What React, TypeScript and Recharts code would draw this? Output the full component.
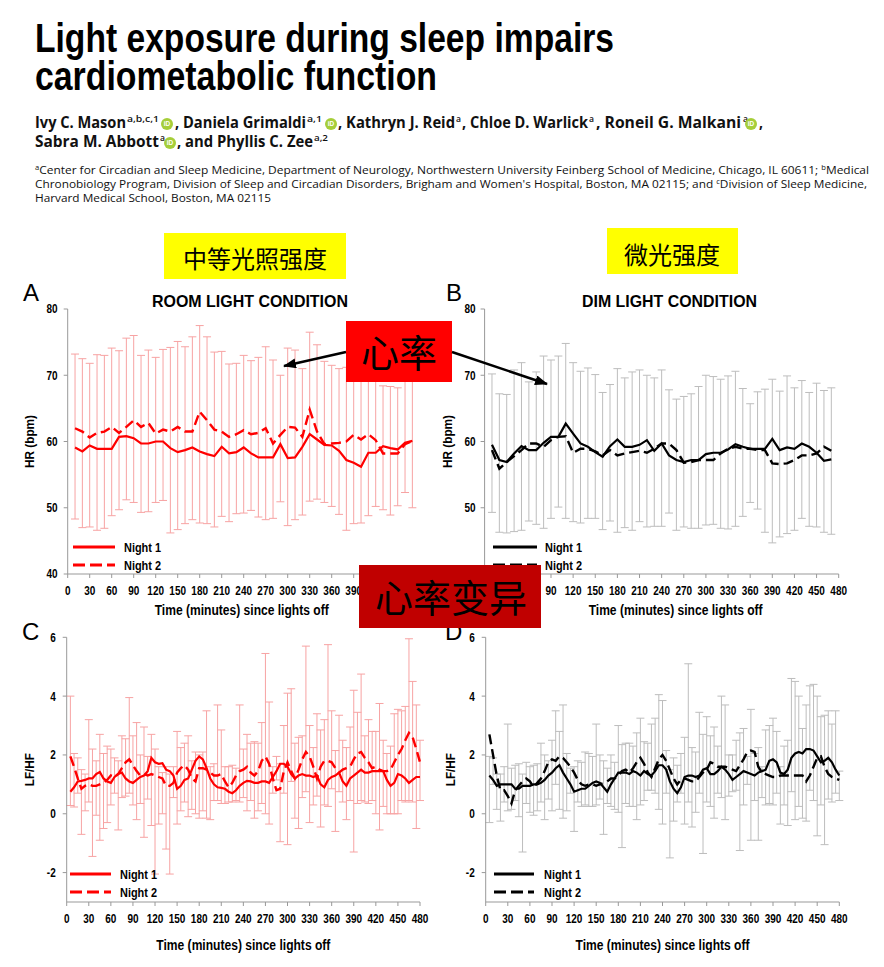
import { LineChart, Line, XAxis, YAxis, ErrorBar } from "recharts";

const NARROW = "'Liberation Sans Narrow', 'Arial Narrow', 'Liberation Sans', Arial, sans-serif";
const ARIAL = "'Liberation Sans', Arial, sans-serif";
const HUMANIST = "'Open Sans', 'Noto Sans', sans-serif";
const CJK = "'Noto Sans CJK SC', 'Noto Sans CJK JP', sans-serif";

// ---- HR panels (A, B): 10-minute bins ----
const hrMinutes = [
  10, 20, 30, 40, 50, 60, 70, 80, 90, 100, 110, 120, 130, 140, 150, 160, 170, 180, 190, 200,
  210, 220, 230, 240, 250, 260, 270, 280, 290, 300, 310, 320, 330, 340, 350, 360, 370, 380, 390, 400,
  410, 420, 430, 440, 450, 460, 470,
];

const roomHrNight1 = [
  59.1, 58.5, 59.4, 58.9, 58.9, 58.9, 60.7, 60.8, 60.5, 59.7, 59.7, 60.0, 60.0, 59.0, 58.4, 58.7, 59.1, 58.5, 58.1, 57.8,
  59.2, 58.2, 58.4, 59.1, 58.2, 57.6, 57.6, 57.6, 59.6, 57.5, 57.6, 59.2, 61.1, 60.3, 59.5, 59.4, 58.6, 57.2, 56.8, 56.2,
  58.3, 58.3, 59.3, 59.0, 58.8, 59.8, 60.1,
];
const roomHrNight2 = [
  62.0, 61.5, 60.6, 61.3, 61.5, 62.2, 61.3, 62.2, 63.2, 62.2, 62.8, 61.2, 61.8, 61.5, 62.2, 61.5, 61.5, 64.5, 63.2, 61.8,
  61.5, 60.7, 61.1, 61.7, 61.1, 61.3, 62.0, 59.7, 61.0, 62.2, 62.1, 60.7, 64.8, 61.5, 59.6, 59.7, 59.8, 60.0, 61.0, 60.3,
  61.1, 60.2, 58.2, 58.2, 58.2, 59.6, 60.1,
];
const roomHrHigh = [
  73.2, 72.5, 71.8, 73.1, 73.0, 74.1, 73.7, 75.6, 76.0, 73.0, 73.8, 72.7, 73.9, 74.2, 75.1, 74.3, 75.8, 77.5, 75.8, 73.5,
  73.6, 71.7, 71.8, 73.0, 72.2, 72.7, 74.3, 72.3, 70.0, 74.1, 73.8, 71.0, 76.5, 74.6, 72.1, 71.5, 71.0, 71.2, 71.5, 71.8,
  71.3, 70.6, 68.4, 68.3, 68.1, 69.5, 70.5,
];
const roomHrLow = [
  48.3, 47.0, 47.1, 46.6, 46.9, 48.8, 49.7, 51.2, 50.8, 49.3, 49.4, 50.8, 51.1, 46.2, 46.7, 47.6, 48.2, 47.7, 47.6, 47.1,
  48.7, 47.9, 49.1, 49.2, 49.6, 48.6, 48.2, 48.4, 50.9, 47.3, 48.2, 48.9, 51.0, 51.3, 50.8, 50.2, 49.0, 46.6, 47.6, 47.7,
  48.8, 50.2, 49.7, 48.9, 50.3, 52.3, 50.0,
];

const dimHrNight1 = [
  59.5, 57.2, 56.9, 58.2, 59.3, 58.7, 58.7, 59.8, 60.7, 60.7, 62.7, 61.2, 59.7, 59.2, 58.4, 57.7, 59.3, 60.3, 59.2, 59.2,
  59.5, 60.2, 58.6, 59.7, 57.9, 57.2, 56.9, 57.2, 57.2, 58.1, 58.3, 58.3, 58.8, 59.6, 59.2, 58.9, 58.9, 58.9, 60.4, 58.7,
  59.1, 58.9, 59.7, 59.2, 58.3, 57.1, 57.3,
];
const dimHrNight2 = [
  58.7, 55.9, 56.9, 57.8, 58.7, 59.7, 59.7, 59.2, 60.2, 60.7, 60.8, 58.3, 58.9, 58.9, 58.5, 57.9, 58.7, 57.9, 58.2, 58.4,
  58.6, 58.3, 58.9, 59.7, 59.7, 58.7, 56.8, 56.9, 57.2, 57.2, 57.2, 58.2, 58.9, 59.2, 58.9, 58.9, 58.7, 58.7, 56.7, 56.6,
  56.7, 57.2, 57.9, 57.9, 58.2, 59.2, 58.6,
];
const dimHrHigh = [
  70.2, 67.2, 67.1, 70.8, 71.9, 69.0, 70.5, 72.9, 72.3, 72.9, 74.8, 71.9, 70.6, 71.1, 70.1, 67.4, 68.6, 71.0, 69.6, 70.5,
  70.8, 70.0, 69.6, 70.8, 67.8, 66.4, 66.8, 67.2, 68.3, 70.0, 69.8, 69.4, 69.9, 70.6, 68.0, 65.7, 67.5, 67.9, 69.4, 67.6,
  69.9, 68.1, 69.2, 67.4, 68.8, 67.7, 68.1,
];
const dimHrLow = [
  49.3, 46.3, 46.2, 46.4, 46.6, 48.0, 47.5, 46.9, 48.4, 50.1, 48.4, 47.9, 47.7, 48.4, 48.4, 46.7, 48.0, 46.3, 47.0, 46.6,
  47.9, 47.1, 47.2, 47.2, 49.2, 46.6, 47.1, 46.9, 46.9, 47.4, 47.5, 46.9, 46.8, 47.2, 48.7, 50.8, 49.8, 46.3, 44.7, 45.6,
  46.1, 46.6, 48.4, 47.2, 47.1, 46.3, 46.0,
];

// ---- LF/HF panels (C, D): 5-minute bins ----
const lfMinutes = [
  5, 10, 15, 20, 25, 30, 35, 40, 45, 50, 55, 60, 65, 70, 75, 80, 85, 90, 95, 100,
  105, 110, 115, 120, 125, 130, 135, 140, 145, 150, 155, 160, 165, 170, 175, 180, 185, 190, 195, 200,
  205, 210, 215, 220, 225, 230, 235, 240, 245, 250, 255, 260, 265, 270, 275, 280, 285, 290, 295, 300,
  305, 310, 315, 320, 325, 330, 335, 340, 345, 350, 355, 360, 365, 370, 375, 380, 385, 390, 395, 400,
  405, 410, 415, 420, 425, 430, 435, 440, 445, 450, 455, 460, 465, 470, 475, 480,
];

const roomLfNight1 = [
  0.75, 0.9, 1.1, 1.12, 1.15, 1.2, 1.2, 1.35, 1.42, 1.2, 1.1, 1.05, 1.25, 1.35, 1.4, 1.2, 1.1, 1.05, 1.15, 1.25,
  1.3, 1.45, 1.9, 1.75, 1.7, 1.72, 1.5, 1.45, 1.3, 0.85, 0.95, 1.15, 1.2, 1.5, 1.8, 1.95, 1.85, 1.55, 1.2, 1.0,
  0.9, 0.88, 0.85, 0.75, 0.7, 0.8, 0.95, 1.05, 1.12, 1.1, 1.05, 1.05, 1.1, 1.1, 1.05, 1.25, 1.45, 1.7, 1.7, 1.6,
  1.35, 1.2, 1.3, 1.35, 1.3, 1.3, 1.25, 1.3, 1.0, 0.9, 1.15, 1.25, 1.3, 1.4, 1.1, 0.95, 1.2, 1.3, 1.4, 1.5,
  1.4, 1.4, 1.45, 1.45, 1.45, 1.45, 1.15, 0.95, 1.05, 1.35, 1.3, 1.2, 1.05, 1.15, 1.25, 1.25,
];
const roomLfNight2 = [
  1.95, 1.6, 1.2, 0.85, 0.95, 1.0, 0.95, 0.95, 1.0, 1.05, 1.15, 1.3, 1.25, 1.35, 1.55, 1.75, 1.85, 1.65, 1.45, 1.3,
  1.35, 1.3, 1.35, 1.3, 1.25, 1.2, 0.95, 0.95, 1.05, 1.4, 1.55, 1.65, 1.5, 1.2, 1.1, 1.55, 1.55, 1.5, 1.4, 1.3,
  1.3, 1.35, 1.1, 0.9, 1.05, 1.3, 1.45, 1.5, 1.6, 1.4, 1.3, 1.45, 1.8, 1.95, 1.7, 1.2, 0.8, 0.85, 1.45, 1.75,
  1.45, 1.2, 1.5, 1.85, 2.1, 1.95, 1.6, 1.2, 1.6, 1.8, 1.8, 1.75, 1.55, 1.4, 1.5, 1.55, 1.6, 1.85, 2.05, 2.1,
  1.9, 1.75, 1.55, 1.6, 1.5, 1.45, 1.45, 1.5, 1.75, 2.0, 2.2, 2.5, 2.75, 2.6, 2.2, 1.75,
];
const roomLfHigh = [
  4.0, 2.05, 1.9, 1.5, 1.35, 3.2, 2.2, 1.8, 2.7, 2.05, 2.3, 2.2, 1.9, 1.8, 2.65, 2.55, 3.95, 2.65, 3.1, 2.0,
  2.95, 1.95, 2.7, 2.2, 1.6, 1.4, 1.6, 1.35, 1.6, 2.8, 2.25, 2.4, 2.65, 1.8, 2.1, 2.0, 2.1, 3.5, 1.6, 1.7,
  3.7, 2.85, 1.6, 1.6, 1.65, 1.55, 3.7, 2.2, 2.7, 2.4, 2.45, 2.4, 3.1, 5.45, 3.8, 1.6, 1.95, 1.7, 3.0, 4.1,
  4.25, 2.4, 2.6, 2.65, 5.7, 3.0, 2.25, 3.4, 2.85, 3.2, 5.75, 3.5, 2.15, 3.35, 2.5, 2.25, 2.95, 4.2, 3.45, 4.75,
  2.65, 3.2, 2.8, 2.8, 3.75, 2.5, 2.05, 2.3, 3.4, 3.55, 3.5, 3.65, 5.95, 4.5, 3.7, 2.5,
];
const roomLfLow = [
  0.28, 0.23, 0.7, -0.7, 0.1, 0.4, -1.45, -0.05, -0.9, -0.5, -0.3, 0.3, 0.7, -0.55, 0.55, 0.6, 0.7, 0.3, -0.2, 0.35,
  -0.8, 0.5, -0.4, -2.05, -0.35, 0.0, -1.2, -2.05, 0.55, -0.35, 0.1, 0.4, -0.1, 0.15, 0.0, -0.15, 0.1, -0.15, -0.2, 0.45,
  0.45, 0.35, 0.35, 0.4, 0.4, 0.45, 0.4, 0.55, 0.1, 0.45, -0.15, 0.1, 0.35, 0.0, -0.35, 0.7, 1.15, -0.95, 0.7, -1.05,
  1.1, -0.15, -0.5, 0.55, 0.75, -0.3, 0.3, 0.6, -0.45, 0.3, 0.25, 0.85, -0.6, 0.75, 0.4, -0.2, 0.45, -1.3, 0.35, 0.45,
  0.4, 0.35, 0.45, 0.0, -0.55, 0.25, 0.0, 0.0, 0.0, 0.0, 0.45, 0.4, 0.45, 0.4, -0.5, 0.45,
];

const dimLfNight1 = [
  1.3, 1.15, 0.95, 1.0, 1.0, 1.0, 1.0, 0.85, 0.85, 0.95, 0.95, 0.95, 1.0, 1.0, 1.05, 1.15, 1.3, 1.4, 1.55, 1.65,
  1.4, 1.2, 1.0, 0.75, 0.8, 0.85, 0.85, 0.95, 1.05, 1.1, 1.05, 0.9, 0.75, 1.0, 1.2, 1.4, 1.4, 1.4, 1.35, 1.45,
  1.4, 1.3, 1.45, 1.35, 1.3, 1.45, 1.65, 1.65, 1.5, 1.1, 0.85, 0.7, 0.9, 1.25, 1.3, 1.3, 1.25, 1.3, 1.5, 1.55,
  1.35, 1.35, 1.45, 1.6, 1.5, 1.35, 1.15, 1.25, 1.35, 1.45, 1.4, 1.35, 1.3, 1.4, 1.45, 1.5, 1.8, 1.85, 1.75, 1.4,
  1.35, 1.5, 1.9, 2.05, 2.1, 2.05, 2.2, 2.2, 2.15, 1.95, 1.75, 1.8, 1.9, 1.75, 1.5, 1.3,
];
const dimLfNight2 = [
  2.7, 2.0, 1.3, 0.8, 0.8, 0.6, 0.35, 0.8, 0.95, 1.1, 1.2, 1.1, 0.9, 1.05, 1.2, 1.45, 1.75, 1.85, 1.8, 1.95,
  1.9, 1.75, 1.6, 1.4, 1.15, 1.0, 0.95, 1.0, 1.0, 0.95, 1.0, 1.05, 1.1, 1.2, 1.2, 1.3, 1.45, 1.5, 1.4, 1.55,
  1.75, 1.9, 1.7, 1.4, 1.25, 1.55, 1.85, 2.0, 1.8, 1.5, 1.2, 1.0, 1.15, 1.2, 1.15, 1.1, 1.1, 1.25, 1.4, 1.5,
  1.75, 1.7, 1.6, 1.6, 1.6, 1.55, 1.5, 1.45, 1.65, 1.85, 2.1, 2.15, 2.1, 1.6, 1.4, 1.35, 1.3, 1.25, 1.25, 1.3,
  1.3, 1.3, 1.3, 1.3, 1.3, 1.3, 1.1, 1.3, 1.6, 1.9, 1.95, 1.6, 1.35, 1.25, 1.2, 1.15,
];
const dimLfHigh = [
  1.95, 1.9, 1.35, 1.35, 1.6, 3.05, 1.55, 1.65, 1.7, 1.35, 1.75, 1.6, 1.65, 1.7, 2.4, 2.0, 1.8, 2.5, 3.5, 2.8,
  3.7, 2.05, 1.55, 1.6, 1.8, 1.75, 2.1, 2.05, 1.95, 3.05, 2.0, 1.8, 1.55, 2.0, 1.75, 3.0, 2.35, 2.4, 2.4, 2.3,
  2.75, 3.25, 2.45, 2.4, 3.05, 3.25, 4.05, 3.85, 2.15, 1.5, 1.9, 1.65, 2.05, 2.6, 5.1, 2.25, 2.1, 3.45, 2.7, 3.3,
  2.65, 2.95, 2.3, 4.0, 3.7, 2.0, 2.0, 2.5, 2.75, 2.9, 1.95, 3.55, 2.05, 2.25, 1.6, 2.85, 3.0, 3.25, 2.8, 1.6,
  2.3, 2.5, 4.6, 4.5, 4.0, 2.9, 3.7, 4.35, 4.4, 4.0, 3.3, 3.35, 3.5, 3.05, 3.5, 1.45,
];
const dimLfLow = [
  -0.3, 1.0, 0.15, -0.25, 0.4, 0.1, 0.15, 0.45, -0.1, -1.3, 0.35, 0.05, -0.05, 0.1, 0.4, -0.2, 0.5, 0.1, 1.0, 0.15,
  -0.15, 0.1, 0.7, -0.6, 0.4, 0.25, 0.3, 0.25, 0.25, 0.3, 0.5, -0.7, 0.35, 0.25, 0.15, 0.05, -1.15, 0.35, 0.25, 0.25,
  -0.2, 0.3, 0.45, 0.8, 0.8, 0.7, 0.15, -0.35, 0.7, -1.5, -0.25, 0.4, 0.7, -0.35, 0.4, -0.45, 0.05, 0.7, -1.35, 0.4,
  0.25, -0.15, 0.7, 0.55, -0.2, 0.6, 0.75, 0.8, -1.25, 0.3, 1.0, -0.9, 0.45, -0.9, 0.55, 0.3, 0.35, 0.3, 0.7, -0.35,
  0.3, -0.4, 0.75, -0.2, 0.25, -0.15, -0.25, 0.8, 0.45, -0.75, 0.3, -1.05, 0.5, 0.4, 0.7, 0.45,
];

const timeTicks = [0, 30, 60, 90, 120, 150, 180, 210, 240, 270, 300, 330, 360, 390, 420, 450, 480];
const hrTicks = [40, 50, 60, 70, 80];
const lfTicks = [-2, 0, 2, 4, 6];

type Row = { t: number; n1: number; n2: number; mid: number; err: number };

function buildRows(mins: number[], n1: number[], n2: number[], hi: number[], lo: number[]): Row[] {
  // error bar drawn around the midpoint of its whisker ends
  return mins.map((m, i) => ({
    t: m,
    n1: n1[i],
    n2: n2[i],
    mid: (hi[i] + lo[i]) / 2,
    err: (hi[i] - lo[i]) / 2,
  }));
}

const roomHrRows = buildRows(hrMinutes, roomHrNight1, roomHrNight2, roomHrHigh, roomHrLow);
const dimHrRows = buildRows(hrMinutes, dimHrNight1, dimHrNight2, dimHrHigh, dimHrLow);
const roomLfRows = buildRows(lfMinutes, roomLfNight1, roomLfNight2, roomLfHigh, roomLfLow);
const dimLfRows = buildRows(lfMinutes, dimLfNight1, dimLfNight2, dimLfHigh, dimLfLow);

// Arial-bold squeezed horizontally, the figure uses a narrow face
const SQUEEZE = 0.8;

function NarrowTick(props: any) {
  const { x, y, payload, textAnchor, verticalAnchor } = props;
  const dy = verticalAnchor === "start" ? "0.71em" : "0.355em";
  return (
    <text
      x={x}
      y={y}
      dy={dy}
      textAnchor={textAnchor}
      fontSize={12.5}
      fontWeight={700}
      fontFamily={ARIAL}
      fill="#000"
      transform={`translate(${x},0) scale(${SQUEEZE},1) translate(${-x},0)`}
    >
      {payload.value}
    </text>
  );
}

interface PanelProps {
  left: number;
  top: number;
  width: number;
  height: number;
  rows: Row[];
  yDomain: [number, number];
  yTicks: number[];
  yLabel: string;
  yLabelLen: number;
  lineColor: string;
  barColor: string;
  margin: { top: number; right: number; bottom: number; left: number };
  yAxisWidth: number;
  xAxisHeight: number;
  yLabelX: number;
  yTickMargin: number;
  xTitleShift: number;
}

function Panel(p: PanelProps) {
  const xTitle = (lp: any) => {
    const vb = lp.viewBox;
    const cx = vb.x + vb.width / 2 + p.xTitleShift;
    return (
      <text
        x={cx - 87}
        y={vb.y + vb.height}
        textLength={174}
        lengthAdjust="spacingAndGlyphs"
        fontSize={14}
        fontWeight={700}
        fontFamily={NARROW}
        fill="#000"
      >
        Time (minutes) since lights off
      </text>
    );
  };
  const yTitle = (lp: any) => {
    const vb = lp.viewBox;
    const cy = vb.y + vb.height / 2;
    return (
      <text
        x={0}
        y={0}
        textLength={p.yLabelLen}
        lengthAdjust="spacingAndGlyphs"
        textAnchor="middle"
        fontSize={13}
        fontWeight={700}
        fontFamily={NARROW}
        fill="#000"
        transform={`translate(${p.yLabelX + 4.5},${cy}) rotate(-90)`}
      >
        {p.yLabel}
      </text>
    );
  };
  return (
    <div style={{ position: "absolute", left: p.left, top: p.top, width: p.width, height: p.height }}>
      <LineChart width={p.width} height={p.height} data={p.rows} margin={p.margin}>
        <XAxis
          dataKey="t"
          type="number"
          domain={[0, 480]}
          ticks={timeTicks}
          interval={0}
          height={p.xAxisHeight}
          tickSize={4}
          tickMargin={8}
          axisLine={{ stroke: "#999" }}
          tickLine={{ stroke: "#999" }}
          tick={<NarrowTick />}
          label={xTitle}
        />
        <YAxis
          type="number"
          domain={p.yDomain}
          ticks={p.yTicks}
          interval={0}
          width={p.yAxisWidth}
          tickSize={4}
          tickMargin={p.yTickMargin}
          axisLine={{ stroke: "#999" }}
          tickLine={{ stroke: "#999" }}
          tick={<NarrowTick />}
          label={yTitle}
        />
        <Line
          dataKey="mid"
          stroke="none"
          dot={false}
          activeDot={false}
          legendType="none"
          isAnimationActive={false}
        >
          <ErrorBar dataKey="err" width={4} stroke={p.barColor} strokeWidth={1} direction="y" isAnimationActive={false} />
        </Line>
        <Line
          type="linear"
          dataKey="n1"
          stroke={p.lineColor}
          strokeWidth={2.2}
          dot={false}
          activeDot={false}
          isAnimationActive={false}
        />
        <Line
          type="linear"
          dataKey="n2"
          stroke={p.lineColor}
          strokeWidth={2.4}
          strokeDasharray="10 5"
          dot={false}
          activeDot={false}
          isAnimationActive={false}
        />
      </LineChart>
    </div>
  );
}

function LegendBlock({ x, y1, y2, textX, color, len }: { x: number; y1: number; y2: number; textX: number; color: string; len: number }) {
  const t = { fontFamily: NARROW, fontSize: 13.5, fontWeight: 700, fill: "#000", textLength: 37, lengthAdjust: "spacingAndGlyphs" };
  return (
    <g>
      <line x1={x} y1={y1} x2={x + len} y2={y1} stroke={color} strokeWidth={3} />
      <line x1={x} y1={y2} x2={x + len} y2={y2} stroke={color} strokeWidth={3} strokeDasharray="12 5" />
      <text x={textX} y={y1 + 5} {...t}>Night 1</text>
      <text x={textX} y={y2 + 5} {...t}>Night 2</text>
    </g>
  );
}

function Orcid({ cx, cy }: { cx: number; cy: number }) {
  return (
    <g>
      <circle cx={cx} cy={cy} r={6} fill="#a6ce39" />
      <text x={cx} y={cy + 2.3} textAnchor="middle" fontSize={6.5} fontWeight={700} fill="#fff" fontFamily={ARIAL}>
        iD
      </text>
    </g>
  );
}

function Header() {
  const name = { fontFamily: HUMANIST, fontSize: 15.5, fontWeight: 700, fill: "#111" };
  const sup = { fontFamily: HUMANIST, fontSize: 9, fontWeight: 600, fill: "#111" };
  const aff = { fontFamily: HUMANIST, fontSize: 11, fill: "#111" };
  const seg = (x: number, x2: number, y: number, s: string, st: any) => (
    <text x={x} y={y} textLength={x2 - x} lengthAdjust="spacingAndGlyphs" {...st}>
      {s}
    </text>
  );
  return (
    <g>
      <text x={35} y={52} fontFamily={NARROW} fontSize={40} fontWeight={700} fill="#000" textLength={579} lengthAdjust="spacingAndGlyphs">
        Light exposure during sleep impairs
      </text>
      <text x={35} y={90} fontFamily={NARROW} fontSize={40} fontWeight={700} fill="#000" textLength={402} lengthAdjust="spacingAndGlyphs">
        cardiometabolic function
      </text>

      {seg(35, 126, 128, "Ivy C. Mason", name)}
      {seg(127, 159, 122, "a,b,c,1", sup)}
      <Orcid cx={167} cy={124} />
      {seg(175, 306, 128, ", Daniela Grimaldi", name)}
      {seg(307, 322, 122, "a,1", sup)}
      <Orcid cx={331} cy={124} />
      {seg(338, 455, 128, ", Kathryn J. Reid", name)}
      {seg(456, 461, 122, "a", sup)}
      {seg(462, 588, 128, ", Chloe D. Warlick", name)}
      {seg(589, 594, 122, "a", sup)}
      {seg(596, 741, 128, ", Roneil G. Malkani", name)}
      {seg(743, 748, 122, "a", sup)}
      <Orcid cx={751} cy={124} />
      {seg(759, 763, 128, ",", name)}

      {seg(35, 159, 147, "Sabra M. Abbott", name)}
      {seg(160, 165, 141, "a", sup)}
      <Orcid cx={170} cy={143} />
      {seg(177, 313, 147, ", and Phyllis C. Zee", name)}
      {seg(314, 328, 141, "a,2", sup)}

      <text x={35} y={174} textLength={834} lengthAdjust="spacingAndGlyphs" {...aff}>
        <tspan fontSize={7} dy={-4}>a</tspan>
        <tspan dy={4}>Center for Circadian and Sleep Medicine, Department of Neurology, Northwestern University Feinberg School of Medicine, Chicago, IL 60611; </tspan>
        <tspan fontSize={7} dy={-4}>b</tspan>
        <tspan dy={4}>Medical</tspan>
      </text>
      <text x={35} y={188} textLength={832} lengthAdjust="spacingAndGlyphs" {...aff}>
        <tspan>Chronobiology Program, Division of Sleep and Circadian Disorders, Brigham and Women's Hospital, Boston, MA 02115; and </tspan>
        <tspan fontSize={7} dy={-4}>c</tspan>
        <tspan dy={4}>Division of Sleep Medicine,</tspan>
      </text>
      <text x={35} y={202} textLength={236} lengthAdjust="spacingAndGlyphs" {...aff}>
        Harvard Medical School, Boston, MA 02115
      </text>
    </g>
  );
}

function Overlay() {
  const letter = { fontFamily: ARIAL, fontSize: 24, fill: "#000" };
  const title = { fontFamily: NARROW, fontSize: 16.5, fontWeight: 700, fill: "#000" };
  const cjk = { fontFamily: CJK, fill: "#000" };
  return (
    <svg width={884} height={967} style={{ position: "absolute", left: 0, top: 0, pointerEvents: "none" }}>
      <defs>
        <marker id="head" markerUnits="userSpaceOnUse" markerWidth={13} markerHeight={10} refX={12} refY={5} orient="auto">
          <path d="M0,0 L13,5 L0,10 z" fill="#000" />
        </marker>
      </defs>
      <Header />

      <rect x={164} y={233} width={182} height={46} fill="#ffff00" />
      <text x={255} y={268} textAnchor="middle" fontSize={24} {...cjk}>中等光照强度</text>
      <rect x={607} y={228} width={131} height={46} fill="#ffff00" />
      <text x={672} y={264} textAnchor="middle" fontSize={24} {...cjk}>微光强度</text>

      <text x={23} y={301} {...letter}>A</text>
      <text x={446} y={301} {...letter}>B</text>
      <text x={22} y={640} {...letter}>C</text>
      <text x={445} y={640} {...letter}>D</text>

      <text x={152} y={307} textLength={196} lengthAdjust="spacingAndGlyphs" {...title}>ROOM LIGHT CONDITION</text>
      <text x={582} y={307} textLength={175} lengthAdjust="spacingAndGlyphs" {...title}>DIM LIGHT CONDITION</text>

      <LegendBlock x={73} y1={547} y2={565} textX={124} color="#ff0000" len={42} />
      <LegendBlock x={493} y1={547} y2={565} textX={545} color="#000" len={44} />
      <LegendBlock x={70} y1={874} y2={892} textX={120} color="#ff0000" len={41} />
      <LegendBlock x={494} y1={874} y2={892} textX={544} color="#000" len={40} />

      <rect x={346} y={321} width={106} height={61} fill="#ff0000" />
      <text x={399} y={367} textAnchor="middle" fontSize={38} {...cjk}>心率</text>
      <line x1={346} y1={352} x2={284} y2={366} stroke="#000" strokeWidth={2.5} markerEnd="url(#head)" />
      <line x1={452} y1={352} x2={547} y2={384} stroke="#000" strokeWidth={2.5} markerEnd="url(#head)" />

      <rect x={359} y={565} width={182} height={63} fill="#c00000" />
      <text x={451} y={612} textAnchor="middle" fontSize={38} {...cjk}>心率变异</text>
    </svg>
  );
}

export default function App() {
  return (
    <div style={{ position: "absolute", left: 0, top: 0, width: 884, height: 967, background: "#fff" }}>
      <Panel
        left={0}
        top={280}
        width={440}
        height={340}
        rows={roomHrRows}
        yDomain={[40, 80]}
        yTicks={hrTicks}
        yLabel="HR (bpm)"
        yLabelLen={53}
        lineColor="#ff0000"
        barColor="#f7a3a3"
        margin={{ top: 29, right: 20.3, bottom: 5, left: 0 }}
        yAxisWidth={67.7}
        xAxisHeight={41}
        yLabelX={29.3}
        yTickMargin={6}
        xTitleShift={-2}
      />
      <Panel
        left={440}
        top={280}
        width={444}
        height={340}
        rows={dimHrRows}
        yDomain={[40, 80]}
        yTicks={hrTicks}
        yLabel="HR (bpm)"
        yLabelLen={53}
        lineColor="#000"
        barColor="#bdbdbd"
        margin={{ top: 29, right: 45.3, bottom: 5, left: 0 }}
        yAxisWidth={44.6}
        xAxisHeight={41}
        yLabelX={7.3}
        yTickMargin={5}
        xTitleShift={14}
      />
      <Panel
        left={0}
        top={620}
        width={440}
        height={340}
        rows={roomLfRows}
        yDomain={[-3, 6]}
        yTicks={lfTicks}
        yLabel="LF/HF"
        yLabelLen={33}
        lineColor="#ff0000"
        barColor="#f7a3a3"
        margin={{ top: 17.3, right: 20, bottom: 10, left: 0 }}
        yAxisWidth={66.7}
        xAxisHeight={48}
        yLabelX={29.3}
        yTickMargin={7}
        xTitleShift={0}
      />
      <Panel
        left={440}
        top={620}
        width={444}
        height={340}
        rows={dimLfRows}
        yDomain={[-3, 6]}
        yTicks={lfTicks}
        yLabel="LF/HF"
        yLabelLen={33}
        lineColor="#000"
        barColor="#bdbdbd"
        margin={{ top: 17.3, right: 44.7, bottom: 10, left: 0 }}
        yAxisWidth={45.7}
        xAxisHeight={48}
        yLabelX={10}
        yTickMargin={7}
        xTitleShift={0}
      />
      <Overlay />
    </div>
  );
}
